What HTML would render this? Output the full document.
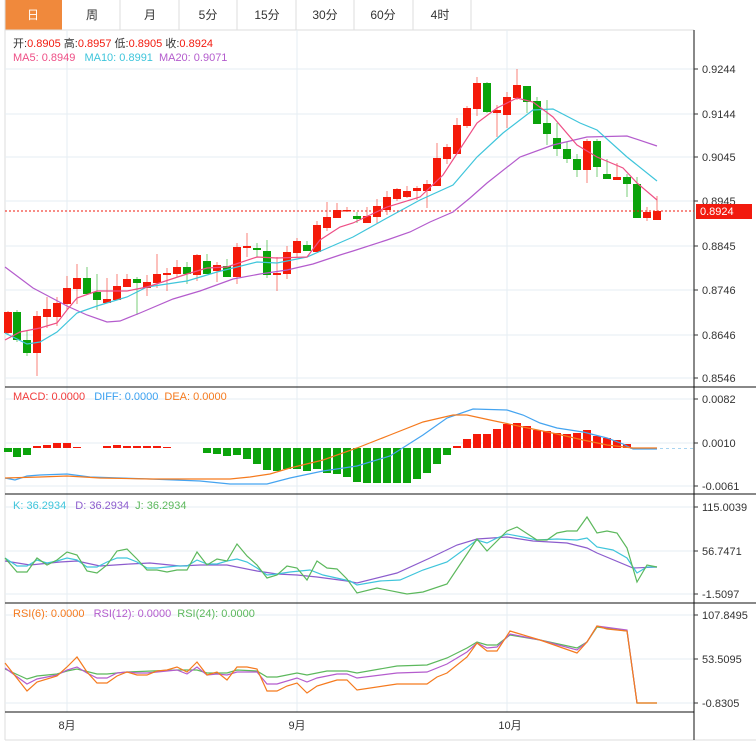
<!DOCTYPE html>
<html><head><meta charset="utf-8"><style>
body{margin:0;background:#fff;width:756px;height:741px;overflow:hidden;font-family:"Liberation Sans","Noto Sans CJK SC",sans-serif}
svg{position:absolute;left:0;top:0}
text{font-family:"Liberation Sans","Noto Sans CJK SC",sans-serif;font-size:11px}
</style></head><body>
<svg id="s" width="756" height="741" xmlns="http://www.w3.org/2000/svg">
<rect x="0" y="0" width="756" height="741" fill="#fff"/>
<rect x="5" y="0" width="57" height="30" fill="#f0893c"/>
<g stroke="#ddd"><line x1="5" y1="30" x2="694" y2="30"/><line x1="120" y1="0" x2="120" y2="30"/><line x1="179" y1="0" x2="179" y2="30"/><line x1="237" y1="0" x2="237" y2="30"/><line x1="296" y1="0" x2="296" y2="30"/><line x1="354" y1="0" x2="354" y2="30"/><line x1="413" y1="0" x2="413" y2="30"/><line x1="471" y1="0" x2="471" y2="30"/><line x1="5" y1="0" x2="5" y2="740"/><line x1="5" y1="740" x2="756" y2="740"/></g>
<g font-size="12" text-anchor="middle" fill="#333">
<text x="33" y="19" fill="#fff" style="font-size:12px">日</text><text x="92" y="19" style="font-size:12px">周</text><text x="150" y="19" style="font-size:12px">月</text><text x="208" y="19" style="font-size:12px">5分</text><text x="267" y="19" style="font-size:12px">15分</text><text x="325" y="19" style="font-size:12px">30分</text><text x="383" y="19" style="font-size:12px">60分</text><text x="440" y="19" style="font-size:12px">4时</text></g>
<g stroke="#e6eef3" id="grid"></g>
<g stroke="#111"><line x1="5" y1="387" x2="756" y2="387"/><line x1="5" y1="494" x2="756" y2="494"/><line x1="5" y1="603" x2="756" y2="603"/><line x1="5" y1="712" x2="694" y2="712"/><line x1="694" y1="30" x2="694" y2="740"/></g>
<g id="c"></g>
<text x="13" y="47" fill="#333">开:<tspan fill="#f21a0e">0.8905</tspan>  高:<tspan fill="#f21a0e">0.8957</tspan>  低:<tspan fill="#f21a0e">0.8905</tspan>  收:<tspan fill="#f21a0e">0.8924</tspan></text>
<text x="13" y="61" fill="#ee4f86">MA5: 0.8949 <tspan fill="#3fc5db" dx="6">MA10: 0.8991</tspan><tspan fill="#b45ccd" dx="6">MA20: 0.9071</tspan></text>
<text x="13" y="400" fill="#f23b3b">MACD: 0.0000 <tspan fill="#3aa0f0" dx="6">DIFF: 0.0000</tspan><tspan fill="#f57a1e" dx="6">DEA: 0.0000</tspan></text>
<text x="13" y="509" fill="#3fc5db">K: 36.2934 <tspan fill="#8c5ccd" dx="6">D: 36.2934</tspan><tspan fill="#5cb85c" dx="6">J: 36.2934</tspan></text>
<text x="13" y="617" fill="#f57a1e">RSI(6): 0.0000 <tspan fill="#b45ccd" dx="6">RSI(12): 0.0000</tspan><tspan fill="#5cb85c" dx="6">RSI(24): 0.0000</tspan></text>
<g fill="#333" id="ax"></g>
<g fill="#333" text-anchor="middle"><text x="67" y="729">8月</text><text x="297" y="729">9月</text><text x="510" y="729">10月</text></g>
<rect x="696" y="204" width="56" height="15" fill="#f21a0e"/>
<text x="700" y="215" fill="#fff">0.8924</text>
</svg>
<script>
const NS="http://www.w3.org/2000/svg";
function el(p,t,a){const e=document.createElementNS(NS,t);for(const k in a)e.setAttribute(k,a[k]);p.appendChild(e);return e}
const g=document.getElementById('grid'),c=document.getElementById('c'),ax=document.getElementById('ax');
[69,114,157,201,246,290,335,378,399,443,486,507,551,594,615,659,703].forEach(y=>el(g,'line',{x1:5,y1:y,x2:694,y2:y}));
[67,297,507].forEach(x=>el(g,'line',{x1:x,y1:30,x2:x,y2:712}));
[[69,'0.9244'],[114,'0.9144'],[157,'0.9045'],[201,'0.8945'],[246,'0.8845'],[290,'0.8746'],[335,'0.8646'],[378,'0.8546'],[399,'0.0082'],[443,'0.0010'],[486,'-0.0061'],[507,'115.0039'],[551,'56.7471'],[594,'-1.5097'],[615,'107.8495'],[659,'53.5095'],[703,'-0.8305']].forEach(([y,t])=>{el(ax,'line',{x1:694,y1:y,x2:698,y2:y,stroke:'#333'});const e=el(ax,'text',{x:702,y:y+4});e.textContent=t;});
const C=[[8,312,333,311,335,1],[17,312,340,310,342,0],[27,340,353,330,356,0],[37,316,353,311,376,1],[47,309,317,297,328,1],[57,303,317,297,326,1],[67,288,304,276,310,1],[77,278,289,264,304,1],[87,278,294,267,294,0],[97,292,300,274,310,0],[107,299,303,278,303,1],[117,286,300,274,300,1],[127,279,287,274,287,1],[137,279,283,277,315,0],[147,282,288,275,296,1],[157,274,283,254,288,1],[167,273,275,268,291,1],[177,267,274,260,277,1],[187,267,274,262,284,0],[197,255,275,254,281,1],[207,261,274,254,274,0],[217,265,271,262,282,1],[227,266,277,259,277,0],[237,247,277,243,284,1],[247,246,248,233,257,1],[257,248,250,243,257,0],[267,251,275,240,278,0],[277,273,275,257,291,1],[287,252,274,246,279,1],[297,241,253,238,257,1],[307,245,251,241,251,0],[317,225,252,221,252,1],[327,217,228,202,231,1],[337,210,218,203,218,1],
[347,210,211,207,212,1],[357,216,219,212,223,0],[367,216,223,207,223,1],[377,206,217,199,223,1],[387,197,210,191,215,1],[397,189,199,188,201,1],[407,191,197,186,198,1],[417,188,191,186,200,1],[427,184,191,180,208,1],[437,158,186,143,186,1],[447,147,159,144,164,1],[457,125,154,118,154,1],[467,108,126,106,128,1],[477,83,109,77,116,1],[487,83,112,82,113,0],[497,110,113,105,137,1],[507,97,115,92,128,1],[517,85,98,69,100,1],[527,86,102,86,113,0],[537,101,124,97,124,0],[547,123,134,100,145,0],[557,138,149,123,156,0],[567,149,159,142,163,0],[577,159,170,154,177,0],[587,141,170,139,183,1],[597,141,167,139,177,0],[607,174,179,159,179,0],[617,177,180,163,180,1],[627,177,184,174,197,0],[637,184,218,177,218,0],[647,212,218,207,221,1],[657,211,220,196,220,1]];
C.forEach(([x,t,b,wt,wb,u])=>{const col=u?'#f41a0a':'#0ba30b';el(c,'line',{x1:x,y1:wt,x2:x,y2:wb,stroke:col,'stroke-opacity':0.55});el(c,'rect',{x:x-4,y:t,width:8,height:Math.max(1.5,b-t),fill:col});});
el(c,'line',{x1:5,y1:211,x2:694,y2:211,stroke:'#f21a0e','stroke-dasharray':'2,2'});
function pl(pts,col){el(c,'polyline',{points:pts.map(p=>p.join(',')).join(' '),fill:'none',stroke:col,'stroke-width':1.2})}
pl([[5,267],[33,288],[67,306],[87,315],[107,322],[120,321],[140,313],[173,299],[200,291],[233,279],[260,274],[287,270],[313,264],[340,255],[353,251],[387,240],[410,232],[430,222],[453,212],[470,198],[487,183],[520,157],[553,145],[587,137],[627,136],[657,146]],'#b45ccd');
pl([[5,333],[27,344],[40,342],[57,332],[77,313],[97,306],[127,297],[147,287],[187,281],[217,272],[257,262],[277,263],[307,257],[330,247],[353,237],[387,218],[420,200],[453,185],[477,157],[503,133],[533,110],[553,109],[580,123],[597,130],[627,157],[657,181]],'#3fc5db');
pl([[5,340],[20,332],[40,328],[57,323],[67,310],[77,298],[97,291],[127,291],[147,287],[187,274],[207,268],[227,267],[257,257],[277,258],[307,257],[320,240],[340,227],[353,223],[387,207],[420,197],[443,175],[477,123],[497,108],[517,98],[533,102],[553,117],[577,145],[597,157],[623,168],[637,183],[657,200]],'#ee4f86');
const M=[[8,452],[17,457],[27,455],[37,446],[47,445],[57,443],[67,443],[77,447],[87,448],[97,447.5],[107,446],[117,445],[127,446],[137,446],[147,446],[157,446],[167,447],[177,448],[187,448],[197,448],[207,453],[217,454],[227,456],[237,455],[247,459],[257,464],[267,470],[277,471],[287,469],[297,469],[307,471],[317,469],[327,473],[337,474],[347,477],[357,482],[367,483],[377,483],[387,483],[397,483],[407,483],[417,479],[427,473],[437,464],[447,455],[457,446],[467,439],[477,434],[487,434],[497,429],[507,424],[517,423],[527,426],[537,430],[547,431],[557,433],[567,434],[577,433],[587,430],[597,436],[607,438],[617,440],[627,444]];
M.forEach(([x,y])=>{if(Math.abs(y-448)<0.6)return;const u=y<448;el(c,'rect',{x:x-4,y:Math.min(y,448),width:8,height:Math.abs(y-448),fill:u?'#f41a0a':'#0ba30b'});});
el(c,'line',{x1:630,y1:448.5,x2:694,y2:448.5,stroke:'#a8d4f0','stroke-dasharray':'3,3'});
pl([[5,478],[15,480],[27,476],[40,475],[67,474],[90,477],[120,478],[150,479],[200,481],[230,484],[267,484],[290,478],[323,471],[357,466],[390,456],[423,435],[447,418],[473,409],[507,410],[523,415],[540,423],[557,428],[583,432],[607,438],[623,444],[633,449],[657,449]],'#45a4f0');
pl([[5,478],[40,477],[67,476],[100,478],[150,479],[230,479],[250,477],[270,474],[290,468],[323,460],[357,448],[390,435],[423,422],[453,415],[467,415],[490,420],[523,427],[557,434],[583,440],[607,445],[633,448],[657,448]],'#f57a1e');
pl([[5,561],[30,565],[60,562],[77,561],[100,566],[130,564],[150,563],[180,566],[200,565],[227,565],[257,571],[277,574],[297,575],[317,577],[347,581],[357,583],[397,573],[430,558],[457,545],[477,539],[507,537],[533,541],[567,543],[587,548],[597,553],[633,568],[657,567]],'#8c5ccd');
pl([[5,558],[17,566],[27,566],[37,560],[47,563],[57,561],[67,558],[77,560],[87,567],[97,567],[107,562],[117,558],[127,558],[137,562],[147,568],[157,568],[167,567],[177,566],[187,566],[197,560],[207,564],[217,564],[227,561],[237,559],[247,562],[257,568],[267,575],[277,574],[290,572],[310,570],[323,575],[350,581],[357,585],[380,581],[400,580],[423,570],[447,562],[477,540],[487,543],[497,538],[507,534],[523,537],[537,540],[557,539],[577,540],[587,538],[597,547],[613,550],[627,558],[637,573],[647,567],[657,567]],'#3fc5db');
pl([[5,558],[17,572],[27,572],[37,558],[47,565],[57,560],[67,552],[77,555],[87,571],[97,573],[107,565],[117,551],[127,549],[137,559],[147,570],[157,570],[167,572],[177,570],[187,570],[197,552],[207,565],[217,559],[227,561],[237,544],[247,556],[257,565],[267,578],[277,575],[287,566],[297,568],[307,580],[317,561],[327,568],[337,569],[347,579],[357,593],[377,588],[407,594],[423,592],[447,584],[477,539],[487,551],[507,531],[517,527],[537,540],[547,540],[557,533],[567,531],[577,531],[587,517],[597,533],[607,531],[617,533],[627,548],[637,582],[647,565],[657,567]],'#5cb85c');
pl([[5,669],[27,679],[37,676],[57,674],[67,671],[77,669],[97,674],[107,674],[127,672],[177,670],[197,670],[207,673],[227,673],[237,670],[257,671],[267,677],[277,677],[297,673],[307,675],[327,671],[347,671],[357,673],[397,666],[427,665],[447,658],[467,648],[477,642],[487,645],[497,645],[510,635],[540,640],[577,648],[587,642],[597,627],[627,631],[637,703],[657,703]],'#5cb85c');
pl([[5,668],[27,684],[37,679],[57,675],[67,670],[77,667],[87,673],[97,678],[107,678],[117,673],[127,672],[137,673],[147,673],[167,671],[177,670],[187,674],[197,667],[207,675],[217,674],[227,675],[237,672],[257,672],[267,684],[277,684],[297,678],[307,682],[317,678],[337,674],[347,674],[357,678],[397,673],[427,672],[447,664],[467,652],[477,643],[487,648],[497,647],[510,634],[540,640],[577,650],[587,642],[597,626],[627,630],[637,703]],'#b45ccd');
pl([[5,663],[27,691],[37,682],[57,676],[67,667],[77,657],[87,672],[97,683],[107,683],[117,676],[127,672],[137,675],[147,675],[157,671],[167,670],[177,667],[187,672],[197,662],[207,675],[217,672],[227,680],[237,667],[247,667],[257,669],[267,691],[277,691],[287,686],[297,683],[307,693],[317,686],[327,683],[337,680],[347,680],[357,690],[397,684],[427,684],[437,677],[447,673],[467,657],[477,643],[487,651],[497,651],[510,631],[520,634],[540,640],[577,653],[587,642],[597,626],[607,629],[627,631],[637,703],[657,703]],'#f57a1e');
</script>
</body></html>
